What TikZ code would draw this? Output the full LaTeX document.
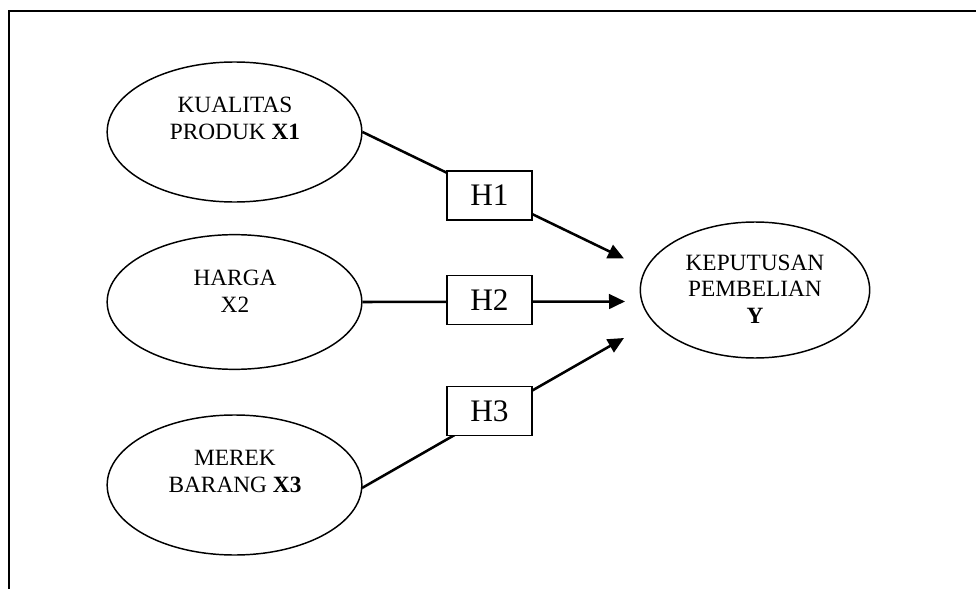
\documentclass[tikz,border=0pt]{standalone}
\usepackage{fontspec}
\setmainfont{Liberation Serif}
\usetikzlibrary{shapes.geometric,arrows.meta}
\begin{document}
\begin{tikzpicture}[x=0.75pt,y=-0.75pt,
  ell/.style={draw,line width=1.1pt,ellipse,inner sep=0pt},
  lbl/.style={align=center,inner sep=0pt,font=\fontsize{17.5}{20}\selectfont},
  hbox/.style={draw,line width=1.1pt,fill=white,minimum width=63.75pt,minimum height=37pt,inner sep=0pt,font=\fontsize{23.5}{25}\selectfont},
  arr/.style={line width=1.9pt,-{Triangle[length=12pt,width=11pt]}}]
\useasboundingbox (0,0) rectangle (976,589);
% partial frame
\coordinate (fbl) at (9,589);
\coordinate (ftl) at (9,11);
\coordinate (ftr) at (976,11);
\draw[line width=0.9pt] (fbl) -- (ftl) -- (ftr);
% ellipses
\node[ell,minimum width=191pt,minimum height=105pt] (x1) at (234.5,132) {};
\node[lbl] (x1t) at (235,118.5) {KUALITAS\\PRODUK \textbf{X1}};
\node[ell,minimum width=191pt,minimum height=101pt] (x2) at (234.5,302) {};
\node[lbl] (x2t) at (235,291) {HARGA\\X2};
\node[ell,minimum width=191pt,minimum height=105pt] (x3) at (234.5,485) {};
\node[lbl] (x3t) at (235,471.5) {MEREK\\BARANG \textbf{X3}};
\node[ell,minimum width=172pt,minimum height=102pt] (y) at (755,290) {};
\node[lbl] (yt) at (755,289) {KEPUTUSAN\\PEMBELIAN\\\textbf{Y}};
% arrow tips
\coordinate (t1) at (624,258.5);
\coordinate (t2) at (625,301.5);
\coordinate (t3) at (624,338);
\draw[arr] (x1.east) -- (t1);
\draw[arr] (x2.east) -- (t2);
\draw[arr] (362,488) -- (t3);
% hypothesis boxes
\node[hbox] (h1) at (489.5,195.5) {H1};
\node[hbox] (h2) at (489.5,300) {H2};
\node[hbox] (h3) at (489.5,411) {H3};
\end{tikzpicture}
\end{document}
